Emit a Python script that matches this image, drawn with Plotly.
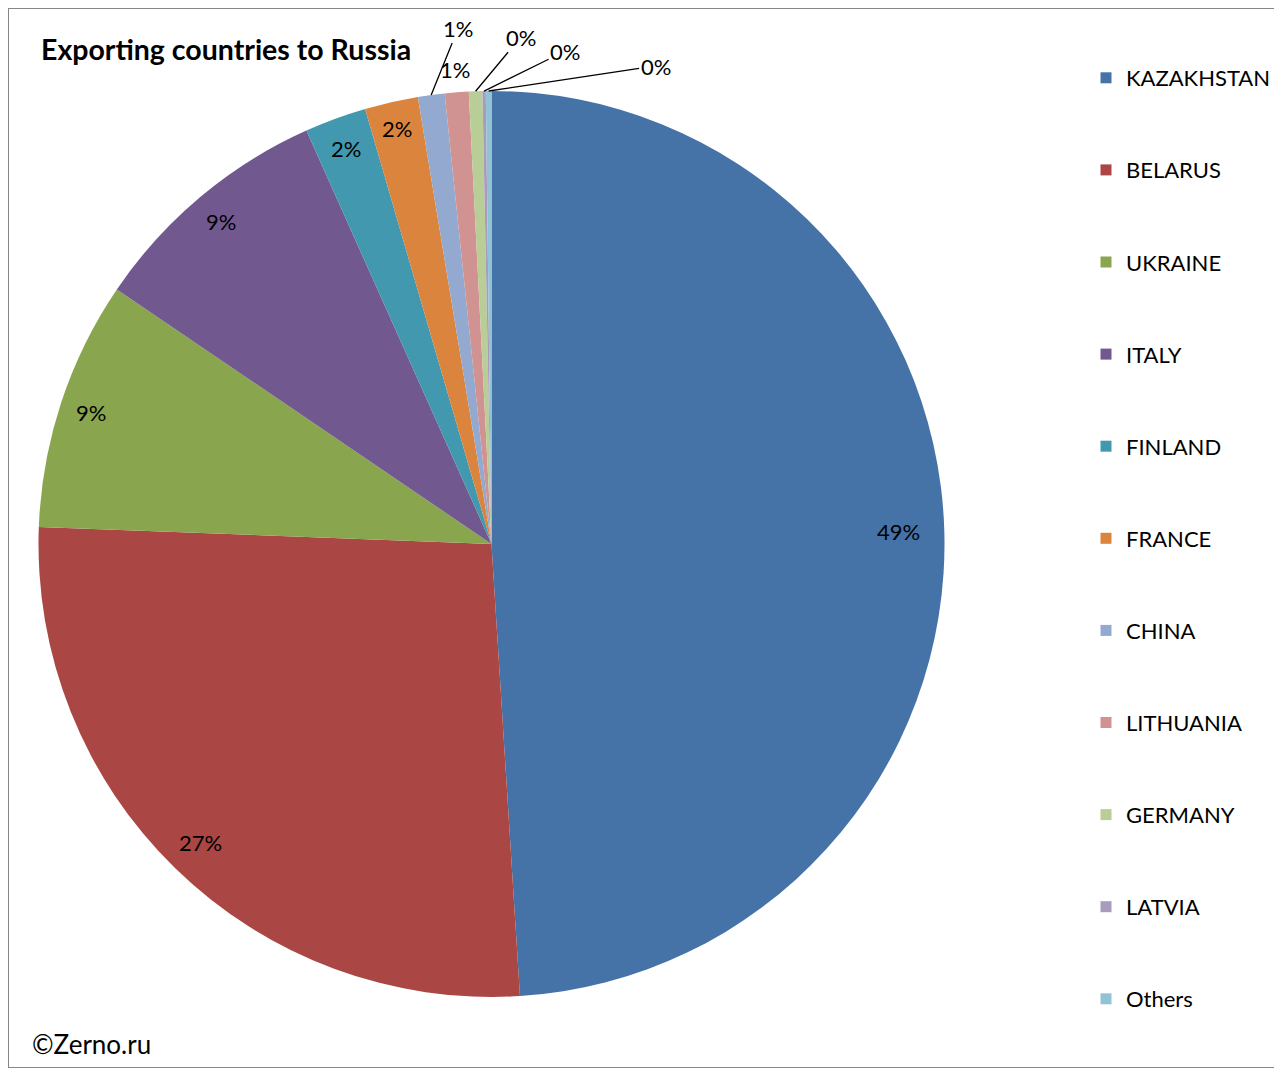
import math
import plotly.graph_objects as go

countries = ["KAZAKHSTAN", "BELARUS", "UKRAINE", "ITALY", "FINLAND", "FRANCE",
             "CHINA", "LITHUANIA", "GERMANY", "LATVIA", "Others"]
shares = [49.0, 26.6, 8.9, 8.8, 2.2, 1.9, 0.95, 0.85, 0.48, 0.12, 0.2]
colors = ["#4572A7", "#AA4643", "#89A54E", "#71588F", "#4198AF", "#DB843D",
          "#93A9CF", "#D19392", "#B9CD96", "#A99BBD", "#91C3D5"]

# page offset of the plot div (body margin) and figure size
OFF = 8
W, H = 1274, 1060
FONT = "Lato"
cx, cy, R = 491.5, 544, 453  # pie centre / radius in page pixels


def fx(x):
    return (x - OFF) / W


def fy(y):
    return 1 - (y - OFF) / H


# label placement: radial factor, or a leader line offset (px) for tiny slices
label_r = [0.9, 0.92, 0.93, 0.93, 0.93, 0.94, None, 1.05, None, None, None]
leader = {6: (27, -67), 8: (45, -54), 9: (81, -40), 10: (167, -25)}

fig = go.Figure()
fig.add_trace(go.Pie(
    labels=countries, values=shares, sort=False, direction="clockwise",
    marker=dict(colors=colors, line=dict(width=0)),
    textinfo="none", showlegend=False, hoverinfo="label+percent",
    domain=dict(x=[fx(cx - R), fx(cx + R)], y=[fy(cy + R), fy(cy - R)]),
))

# legend entries (square markers, wide spacing)
for i, (name, c) in enumerate(zip(countries, colors)):
    fig.add_trace(go.Scatter(x=[None], y=[None], mode="markers", name=name,
                             legendgroup=str(i),
                             marker=dict(symbol="square", size=11, color=c)))

total = sum(shares)
cum = 0
for i, v in enumerate(shares):
    mid = (cum + v / 2) / total * 2 * math.pi
    cum += v
    txt = f"{round(v / total * 100):.0f}%"
    if i in leader:
        ex = cx + R * math.sin(mid)
        ey = cy - R * math.cos(mid)
        ax, ay = leader[i]
        fig.add_annotation(x=fx(ex), y=fy(ey), xref="paper", yref="paper",
                           text=txt, showarrow=True, arrowhead=0, arrowwidth=1.3,
                           arrowcolor="black", ax=ax, ay=ay,
                           xanchor="center", yanchor="middle",
                           font=dict(family=FONT, size=22, color="black"))
    else:
        f = label_r[i] * R
        lx = cx + f * math.sin(mid)
        ly = cy - f * math.cos(mid)
        fig.add_annotation(x=fx(lx), y=fy(ly), xref="paper", yref="paper",
                           text=txt, showarrow=False,
                           xanchor="center", yanchor="middle",
                           font=dict(family=FONT, size=22, color="black"))

fig.add_annotation(x=fx(39), y=fy(49), xref="paper", yref="paper",
                   xanchor="left", yanchor="middle", showarrow=False,
                   text="<b>Exporting countries to Russia</b>",
                   font=dict(family=FONT, size=28.5, color="black"))
fig.add_annotation(x=fx(30), y=fy(1044), xref="paper", yref="paper",
                   xanchor="left", yanchor="middle", showarrow=False,
                   text="©Zerno.ru", font=dict(family=FONT, size=26, color="black"))

fig.add_shape(type="rect", xref="paper", yref="paper", x0=0, y0=0, x1=1, y1=1,
              line=dict(color="#868686", width=2))

fig.update_layout(
    width=W, height=H, margin=dict(l=0, r=0, t=0, b=0),
    paper_bgcolor="white", plot_bgcolor="white",
    xaxis=dict(visible=False), yaxis=dict(visible=False),
    legend=dict(x=fx(1086), y=fy(57), xanchor="left", yanchor="top",
                tracegroupgap=60.5, font=dict(family=FONT, size=22, color="black"),
                bgcolor="rgba(0,0,0,0)"),
)

fig.write_html("out.html")
